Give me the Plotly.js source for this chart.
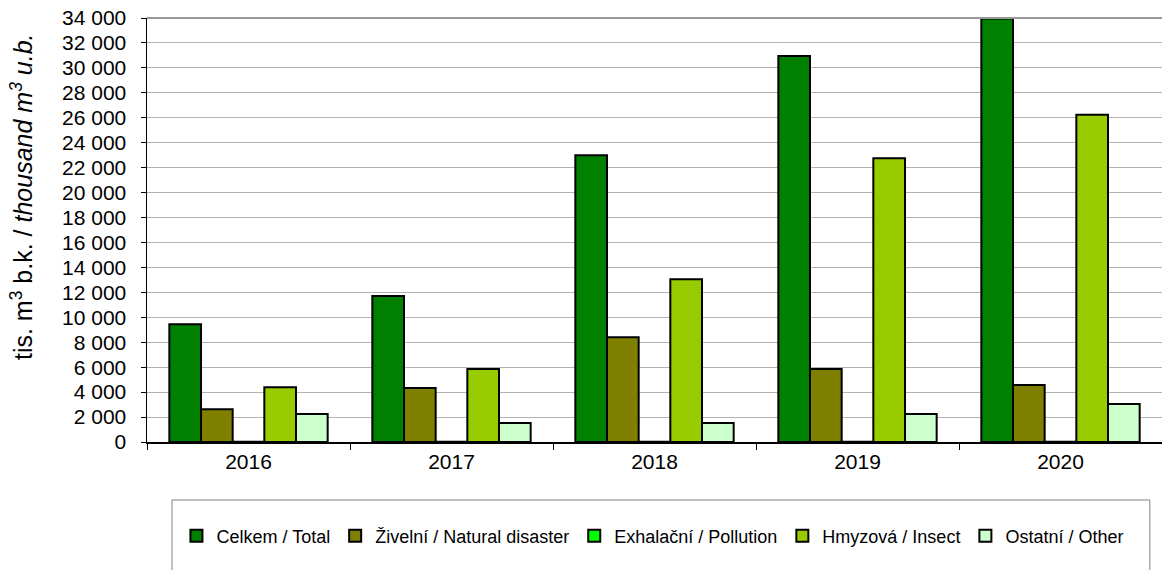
<!DOCTYPE html>
<html>
<head>
<meta charset="utf-8">
<script src="https://cdn.plot.ly/plotly-3.0.1.min.js"></script>
<style>html,body{margin:0;padding:0;background:#fff;}#chart{width:1162px;height:570px;}</style>
</head>
<body>
<div id="chart"></div>
<script>
const years = ["2016", "2017", "2018", "2019", "2020"];
const seriesNames = ["Celkem / Total", "Živelní / Natural disaster", "Exhalační / Pollution", "Hmyzová / Insect", "Ostatní / Other"];
const total     = [9450, 11700, 23000, 30950, 33950];
const natural   = [2620, 4330, 8400, 5850, 4570];
const pollution = [30, 20, 20, 20, 20];
const insect    = [4390, 5850, 13050, 22750, 26250];
const other     = [2250, 1520, 1520, 2250, 3050];
const colors = ["#008000", "#808000", "#00ff00", "#99cc00", "#ccffcc"];

const values = [total, natural, pollution, insect, other];
const FONT = "Liberation Sans, Arial, sans-serif";

const traces = values.map((v, i) => ({
  type: "bar",
  name: seriesNames[i],
  x: years,
  y: v,
  marker: { color: colors[i], line: { color: "#000", width: 2 } },
  hoverinfo: "x+y+name"
}));

const layout = {
  width: 1162, height: 570,
  margin: { l: 147, r: 0, t: 18, b: 128 },
  paper_bgcolor: "#fff", plot_bgcolor: "#fff",
  separators: ". ",
  font: { family: FONT, color: "#000" },
  barmode: "group",
  bargap: 0.22,
  bargroupgap: 0,
  showlegend: true,
  legend: {
    orientation: "h",
    x: 0.029, xanchor: "left",
    y: -0.222, yanchor: "middle",
    font: { family: FONT, size: 18, color: "#000" },
    bgcolor: "rgba(0,0,0,0)",
    borderwidth: 0,
    traceorder: "normal"
  },
  xaxis: {
    type: "category",
    showline: true, linecolor: "#000", linewidth: 1.5,
    ticks: "outside", tickson: "boundaries", ticklen: 6, tickcolor: "#000", tickwidth: 1,
    tickfont: { family: FONT, size: 21, color: "#000" },
    showgrid: false, zeroline: false
  },
  yaxis: {
    range: [0, 34000], dtick: 2000, tick0: 0,
    tickformat: ",d",
    showline: true, linecolor: "#000", linewidth: 1.5,
    ticks: "outside", ticklen: 5, tickcolor: "#000", tickwidth: 1,
    ticklabelstandoff: 10,
    tickfont: { family: FONT, size: 21, color: "#000" },
    showgrid: true, gridcolor: "#b3b3b3", gridwidth: 1,
    zeroline: false
  },
  shapes: [
    { type: "rect", xref: "paper", yref: "paper", x0: 0.0246, x1: 0.988, y0: -0.1368, y1: -0.33,
      line: { color: "#808080", width: 1 }, fillcolor: "rgba(0,0,0,0)", layer: "below" },
    { type: "line", xref: "paper", yref: "paper", x0: 0, x1: 1, y0: 1, y1: 1,
      line: { color: "#999", width: 2 } }
  ],
  annotations: [
    { xref: "paper", yref: "paper", x: -0.1232, y: 0.58, xanchor: "center", yanchor: "middle",
      textangle: -90, showarrow: false,
      text: "tis. m<sup>3</sup> b.k. / <i>thousand m<sup>3</sup> u.b.</i>",
      font: { family: FONT, size: 25, color: "#000" } }
  ]
};

Plotly.newPlot("chart", traces, layout, { displayModeBar: false, staticPlot: true });
</script>
</body>
</html>
